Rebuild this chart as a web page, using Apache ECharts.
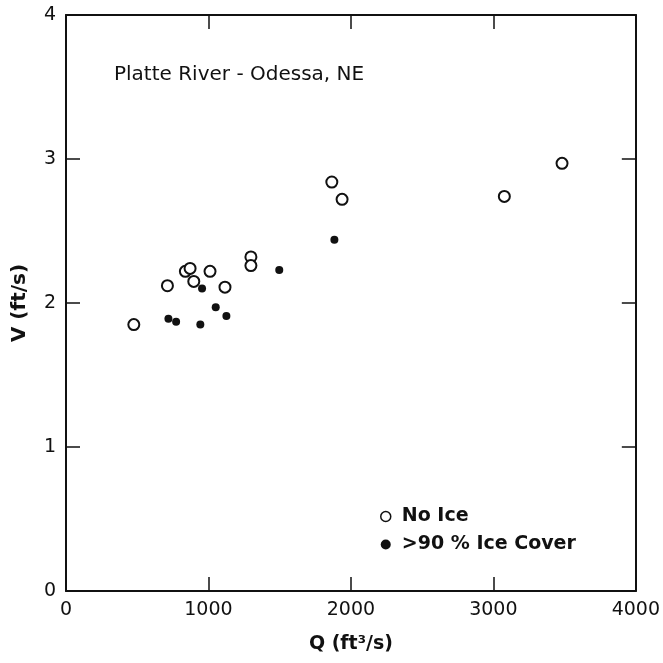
<!DOCTYPE html>
<html>
<head>
<meta charset="utf-8">
<script src="https://cdn.jsdelivr.net/npm/echarts@6/dist/echarts.min.js"></script>
<style>
html,body{margin:0;padding:0;background:#fff;}
#c{width:663px;height:663px;}
</style>
</head>
<body>
<div id="c"></div>
<script>
// Data
var noIceQ = [476, 712, 838, 871, 897, 1011, 1116, 1298, 1298, 1866, 1938, 3077, 3482];
var noIceV = [1.85, 2.12, 2.22, 2.24, 2.15, 2.22, 2.11, 2.32, 2.26, 2.84, 2.72, 2.74, 2.97];
var iceQ = [719, 773, 943, 955, 1051, 1126, 1497, 1884];
var iceV = [1.89, 1.87, 1.85, 2.10, 1.97, 1.91, 2.23, 2.44];
var xTicks = [0, 1000, 2000, 3000, 4000];
var yTicks = [0, 1, 2, 3, 4];
var titleText = 'Platte River - Odessa, NE';
var seriesNames = ['No Ice', '>90 % Ice Cover'];

function pairs(a, b) { return a.map(function (v, i) { return [v, b[i]]; }); }

var FONT = 'DejaVu Sans';
var INK = '#111';
var chart = echarts.init(document.getElementById('c'), null, {renderer: 'canvas'});

function xAx(pos, show) {
  return {
    type: 'value', position: pos, min: xTicks[0], max: xTicks[xTicks.length - 1], interval: 1000,
    axisLine: {show: true, onZero: false, lineStyle: {color: INK, width: 2}},
    axisTick: {show: true, inside: true, length: 14, lineStyle: {color: INK, width: 1.5}},
    axisLabel: {show: show, color: INK, fontFamily: FONT, fontSize: 19, margin: 10,
      formatter: function (v) { return String(v); }},
    splitLine: {show: false},
    name: show ? 'Q (ft\u00B3/s)' : '', nameLocation: 'middle', nameGap: 44,
    nameTextStyle: {color: INK, fontFamily: FONT, fontSize: 19, fontWeight: 'bold'}
  };
}
function yAx(pos, show) {
  return {
    type: 'value', position: pos, min: yTicks[0], max: yTicks[yTicks.length - 1], interval: 1,
    axisLine: {show: true, onZero: false, lineStyle: {color: INK, width: 2}},
    axisTick: {show: true, inside: true, length: 14, lineStyle: {color: INK, width: 1.5}},
    axisLabel: {show: show, color: INK, fontFamily: FONT, fontSize: 19, margin: 10},
    splitLine: {show: false},
    name: show ? 'V (ft/s)' : '', nameLocation: 'middle', nameGap: 36, nameRotate: 90,
    nameTextStyle: {color: INK, fontFamily: FONT, fontSize: 20, fontWeight: 'bold'}
  };
}

chart.setOption({
  backgroundColor: '#fff',
  animation: false,
  title: {
    text: titleText, left: 109, top: 60,
    textStyle: {color: INK, fontFamily: FONT, fontSize: 20, fontWeight: 'normal'}
  },
  grid: {left: 66, right: 26, top: 15, bottom: 72, containLabel: false},
  xAxis: [xAx('bottom', true), xAx('top', false)],
  yAxis: [yAx('left', true), yAx('right', false)],
  legend: {
    orient: 'vertical', left: 375, top: 502, itemGap: 9,
    itemWidth: 10, itemHeight: 10,
    textStyle: {color: INK, fontFamily: FONT, fontSize: 19, fontWeight: 'bold', padding: [0, 0, 0, 6]},
    data: [
      {name: seriesNames[0], icon: 'circle', itemStyle: {color: '#fff', borderColor: INK, borderWidth: 1.5}},
      {name: seriesNames[1], icon: 'circle', itemStyle: {color: INK}}
    ]
  },
  series: [
    {
      name: seriesNames[0], type: 'scatter', xAxisIndex: 0, yAxisIndex: 0,
      symbol: 'circle', symbolSize: 11,
      itemStyle: {color: '#fff', borderColor: INK, borderWidth: 2, opacity: 1},
      data: pairs(noIceQ, noIceV)
    },
    {
      name: seriesNames[1], type: 'scatter', xAxisIndex: 0, yAxisIndex: 0,
      symbol: 'circle', symbolSize: 8,
      itemStyle: {color: INK, opacity: 1},
      data: pairs(iceQ, iceV)
    }
  ]
});
</script>
</body>
</html>
